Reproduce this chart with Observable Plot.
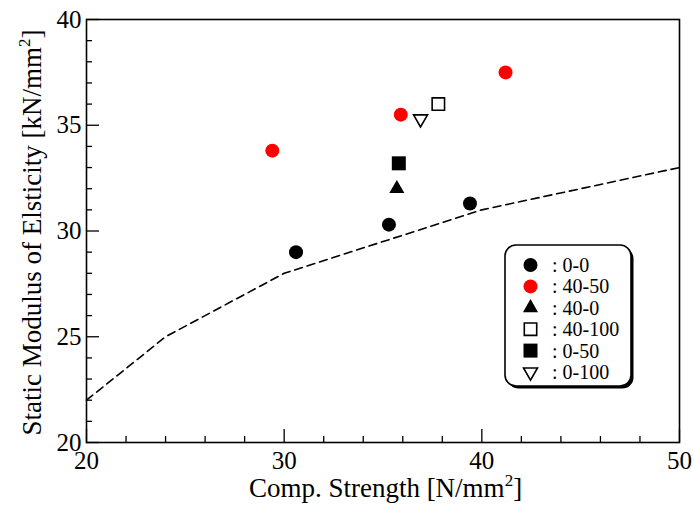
<!DOCTYPE html>
<html>
<head>
<meta charset="utf-8">
<script src="https://cdn.jsdelivr.net/npm/d3@7"></script>
<script src="https://cdn.jsdelivr.net/npm/@observablehq/plot@0.6"></script>
<style>
  html, body { margin: 0; padding: 0; background: #fff; }
  #chart { position: relative; width: 694px; height: 510px; }
</style>
</head>
<body>
<div id="chart"></div>
<script>
// ---- data ----
const seriesNames = ["0-0", "40-50", "40-0", "40-100", "0-50", "0-100"];
const pointSeries = ["0-0", "0-0", "0-0", "40-50", "40-50", "40-50", "40-0", "40-100", "0-50", "0-100"];
const pointStrength = [30.6, 35.3, 39.4, 29.4, 35.9, 41.2, 35.7, 37.8, 35.8, 36.9];
const pointModulus = [29.0, 30.3, 31.3, 33.8, 35.5, 37.5, 32.0, 36.0, 33.2, 35.3];
const curveStrength = [20, 24, 30, 40, 50];
const curveModulus = [22, 25, 28, 31, 33];
const xTickLabels = [20, 30, 40, 50];
const yTickLabels = [20, 25, 30, 35, 40];
const xMinorTicks = [22, 24, 26, 28, 32, 34, 36, 38, 42, 44, 46, 48];
const yMinorTicks = [21, 22, 23, 24, 26, 27, 28, 29, 31, 32, 33, 34, 36, 37, 38, 39];
const xTitle = "Comp. Strength [N/mm²]";
const yTitle = "Static Modulus of Elsticity [kN/mm²]";

// ---- styles ----
const styleOf = {
  "0-0":    {symbol: "circle",   fill: "black", stroke: "none",  r: 7,   rotate: 0},
  "40-50":  {symbol: "circle",   fill: "red",   stroke: "none",  r: 7,   rotate: 0},
  "40-0":   {symbol: "triangle", fill: "black", stroke: "none",  r: 5.6, rotate: 0},
  "40-100": {symbol: "square",   fill: "white", stroke: "black", r: 7.0, rotate: 0},
  "0-50":   {symbol: "square",   fill: "black", stroke: "none",  r: 7.9, rotate: 0},
  "0-100":  {symbol: "triangle", fill: "white", stroke: "black", r: 5.2, rotate: 180}
};

const points = pointSeries.map((s, i) => ({series: s, x: pointStrength[i], y: pointModulus[i]}));
const curve = curveStrength.map((x, i) => ({x, y: curveModulus[i]}));

const W = 694, H = 510;
const mL = 86, mR = 15, mT = 19, mB = 68;
const frameW = W - mL - mR, frameH = H - mT - mB;
const FONT = "'Liberation Serif', 'Times New Roman', serif";

const chart = Plot.plot({
  width: W, height: H,
  marginLeft: mL, marginRight: mR, marginTop: mT, marginBottom: mB,
  style: {fontFamily: FONT, fontSize: "25px", color: "black", background: "white", overflow: "visible"},
  x: {domain: [20, 50]},
  y: {domain: [20, 40]},
  r: {type: "identity"},
  color: {type: "identity"},
  symbol: {type: "identity"},
  marks: [
    Plot.line(curve, {x: "x", y: "y", stroke: "black", strokeWidth: 1.6, strokeDasharray: "8,5"}),
    Plot.tickX(xMinorTicks, {x: d => d, insetTop: frameH - 6, strokeWidth: 1.3}),
    Plot.tickX(xTickLabels, {x: d => d, insetTop: frameH - 13, strokeWidth: 1.3}),
    Plot.tickY(yMinorTicks, {y: d => d, insetRight: frameW - 6, strokeWidth: 1.3}),
    Plot.tickY(yTickLabels, {y: d => d, insetRight: frameW - 13, strokeWidth: 1.3}),
    Plot.axisX(xTickLabels, {tickSize: 0, tickPadding: 9, label: null, fontSize: 25}),
    Plot.axisY(yTickLabels, {tickSize: 0, tickPadding: 5, label: null, fontSize: 25}),
    Plot.dot(points, {
      x: "x", y: "y",
      symbol: d => styleOf[d.series].symbol,
      fill: d => styleOf[d.series].fill,
      stroke: d => styleOf[d.series].stroke,
      r: d => styleOf[d.series].r,
      rotate: d => styleOf[d.series].rotate,
      strokeWidth: 1.6
    }),
    Plot.frame({stroke: "black", strokeWidth: 1.6})
  ]
});

document.getElementById("chart").appendChild(chart);

const svg = d3.select(chart);

// text with a raised superscript "2"
function titleText(sel, label) {
  const [before, after] = label.split("²");
  sel.append("tspan").text(before);
  sel.append("tspan").attr("dy", -11).attr("font-size", 17).text("2");
  sel.append("tspan").attr("dy", 11).text(after);
}

// axis titles
titleText(svg.append("text")
  .attr("x", mL + frameW / 2 + 3).attr("y", 497)
  .attr("text-anchor", "middle")
  .attr("font-family", FONT).attr("font-size", 27)
  .attr("fill", "black"), xTitle);

titleText(svg.append("text")
  .attr("transform", `translate(41,${mT + frameH / 2 + 2}) rotate(-90)`)
  .attr("text-anchor", "middle")
  .attr("font-family", FONT).attr("font-size", 27)
  .attr("fill", "black"), yTitle);

// legend
const lg = svg.append("g").attr("transform", "translate(505,245)");
lg.append("rect").attr("x", 2.5).attr("y", 2.5).attr("width", 126).attr("height", 141)
  .attr("rx", 11).attr("fill", "black");
lg.append("rect").attr("x", 0).attr("y", 0).attr("width", 126).attr("height", 141)
  .attr("rx", 11).attr("fill", "white").attr("stroke", "black").attr("stroke-width", 1.6);
const symMap = {circle: d3.symbolCircle, square: d3.symbolSquare, triangle: d3.symbolTriangle};
seriesNames.forEach((s, i) => {
  const st = styleOf[s];
  const cy = 20 + i * 21.4;
  lg.append("path")
    .attr("d", d3.symbol(symMap[st.symbol], Math.PI * st.r * st.r)())
    .attr("transform", `translate(25.5,${cy}) rotate(${st.rotate})`)
    .attr("fill", st.fill).attr("stroke", st.stroke).attr("stroke-width", 1.6);
  lg.append("text")
    .attr("x", 47).attr("y", cy + 7)
    .attr("text-anchor", "start")
    .attr("font-family", FONT).attr("font-size", 20).attr("fill", "black")
    .text(": " + s);
});
</script>
</body>
</html>
